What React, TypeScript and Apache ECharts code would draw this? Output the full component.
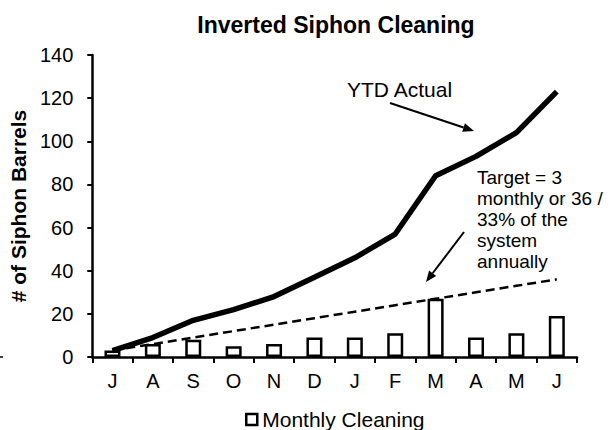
import React, { useEffect, useRef } from "react";
import * as echarts from "echarts";

const months = ["J", "A", "S", "O", "N", "D", "J", "F", "M", "A", "M", "J"];
const monthlyCleaning = [3, 6, 8, 5, 6, 9, 9, 11, 27, 9, 11, 19];
const ytdActual = [3, 9, 17, 22, 28, 37, 46, 57, 84, 93, 104, 123];
const target = [3, 6, 9, 12, 15, 18, 21, 24, 27, 30, 33, 36];
const yTicks = { min: 0, max: 140, interval: 20 };

const FONT = "'Liberation Sans', Arial, sans-serif";

function arrow(x1: number, y1: number, x2: number, y2: number) {
  const dx = x2 - x1;
  const dy = y2 - y1;
  const len = Math.sqrt(dx * dx + dy * dy);
  const ux = dx / len;
  const uy = dy / len;
  const hl = 11;
  const hw = 4.5;
  const bx = x2 - ux * hl;
  const by = y2 - uy * hl;
  return [
    {
      type: "line",
      shape: { x1, y1, x2: bx, y2: by },
      style: { stroke: "#000", lineWidth: 2 },
    },
    {
      type: "polygon",
      shape: {
        points: [
          [x2, y2],
          [bx - uy * hw, by + ux * hw],
          [bx + uy * hw, by - ux * hw],
        ],
      },
      style: { fill: "#000" },
    },
  ];
}

export default function App() {
  const ref = useRef<HTMLDivElement>(null);
  useEffect(() => {
    document.body.style.margin = "0";
    if (!ref.current) return;
    const chart = echarts.init(ref.current, null, { renderer: "svg" });
    chart.setOption({
      animation: false,
      backgroundColor: "#fff",
      title: {
        text: "Inverted Siphon Cleaning",
        left: 331,
        top: 8,
        textAlign: "center",
        textStyle: { fontFamily: FONT, fontSize: 23, fontWeight: "bold", color: "#000" },
      },
      legend: {
        data: ["Monthly Cleaning"],
        left: 240,
        top: 404,
        itemWidth: 11,
        itemHeight: 11,
        itemGap: 6,
        icon: "rect",
        itemStyle: { color: "#fff", borderColor: "#000", borderWidth: 2.5 },
        textStyle: { fontFamily: FONT, fontSize: 21, color: "#000" },
      },
      grid: { left: 82, right: 35, top: 55, bottom: 73 },
      xAxis: {
        type: "category",
        data: months,
        boundaryGap: true,
        axisLine: { lineStyle: { color: "#000", width: 2.5 } },
        axisTick: { show: true, length: 6, lineStyle: { color: "#000", width: 2 } },
        axisLabel: { margin: 14, fontFamily: FONT, fontSize: 20, color: "#000", interval: 0 },
        splitLine: { show: false },
      },
      yAxis: {
        type: "value",
        min: yTicks.min,
        max: yTicks.max,
        interval: yTicks.interval,
        name: "# of Siphon Barrels",
        nameLocation: "middle",
        nameRotate: 90,
        nameGap: 63,
        nameTextStyle: { fontFamily: FONT, fontSize: 21, fontWeight: "bold", color: "#000" },
        axisLine: { show: true, lineStyle: { color: "#000", width: 2.5 } },
        axisTick: { show: true, length: 5, lineStyle: { color: "#000", width: 2 } },
        axisLabel: { margin: 19, fontFamily: FONT, fontSize: 20, color: "#000" },
        splitLine: { show: false },
      },
      series: [
        {
          name: "Monthly Cleaning",
          type: "bar",
          data: monthlyCleaning,
          barWidth: 16,
          itemStyle: { color: "#fff", borderColor: "#000", borderWidth: 2.5 },
          z: 1,
        },
        {
          name: "Target",
          type: "line",
          data: target,
          symbol: "none",
          lineStyle: { color: "#000", width: 2.5, type: [9, 5] },
          z: 3,
        },
        {
          name: "YTD Actual",
          type: "line",
          data: ytdActual,
          symbol: "none",
          lineStyle: { color: "#000", width: 5.5, join: "round" },
          z: 4,
        },
      ],
      graphic: [
        {
          type: "text",
          left: 347,
          top: 79,
          style: { text: "YTD Actual", fontFamily: FONT, fontSize: 21, fill: "#000" },
        },
        {
          type: "text",
          left: 477,
          top: 167,
          style: {
            text: "Target = 3\nmonthly or 36 /\n33% of the\nsystem\nannually",
            fontFamily: FONT,
            fontSize: 19,
            lineHeight: 21,
            fill: "#000",
          },
        },
        ...arrow(390, 103, 474, 131),
        ...arrow(464, 232, 426, 282),
        {
          type: "line",
          shape: { x1: 0, y1: 357, x2: 3, y2: 357 },
          style: { stroke: "#000", lineWidth: 1.5 },
        },
      ],
    });
    return () => chart.dispose();
  }, []);
  return <div ref={ref} style={{ width: 612, height: 430 }} />;
}
